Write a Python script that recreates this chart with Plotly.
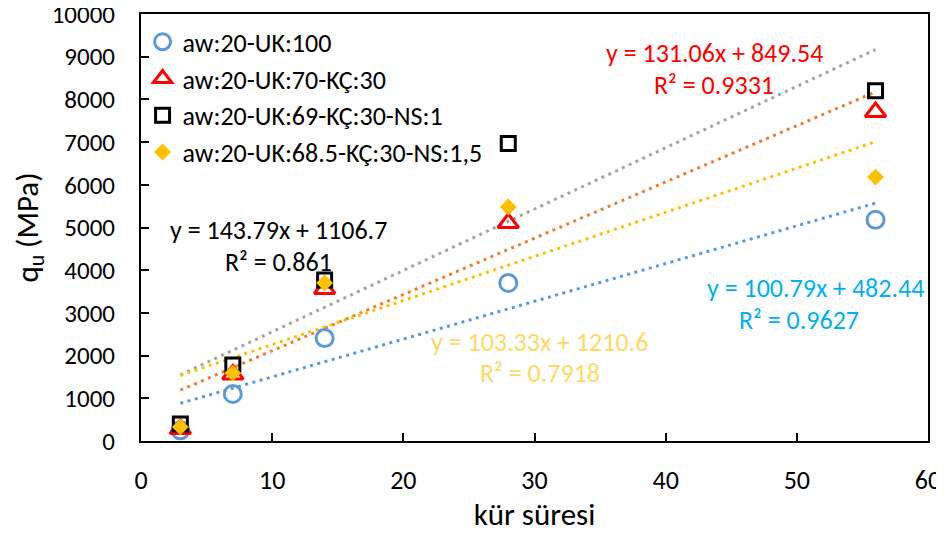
import numpy as np
import plotly.graph_objects as go

FONT = "Carlito, Lato, sans-serif"

# ---- data ----
days = [3, 7, 14, 28, 56]
series_names = [
    "aw:20-UK:100",
    "aw:20-UK:70-KÇ:30",
    "aw:20-UK:69-KÇ:30-NS:1",
    "aw:20-UK:68.5-KÇ:30-NS:1,5",
]
qu_uk100 = [250, 1100, 2410, 3700, 5180]
qu_kc30 = [280, 1560, 3560, 5105, 7705]
qu_ns1 = [400, 1780, 3770, 6970, 8200]
qu_ns15 = [330, 1590, 3700, 5480, 6180]

eq_texts = [
    ("y = 100.79x + 482.44", "R² = 0.9627"),
    ("y = 131.06x + 849.54", "R² = 0.9331"),
    ("y = 143.79x + 1106.7", "R² = 0.861"),
    ("y = 103.33x + 1210.6", "R² = 0.7918"),
]
x_ticks = [0, 10, 20, 30, 40, 50, 60]
y_ticks = [0, 1000, 2000, 3000, 4000, 5000, 6000, 7000, 8000, 9000, 10000]
y_tick_labels = [str(v) for v in y_ticks]

# ---- styles ----
all_values = [qu_uk100, qu_kc30, qu_ns1, qu_ns15]
marker_styles = [
    dict(symbol="circle-open", size=17, color="#5B9BD5", line=dict(width=3, color="#5B9BD5")),
    dict(symbol="triangle-up-open", size=18, color="#FF0000", line=dict(width=3, color="#FF0000")),
    dict(symbol="square-open", size=14, color="#000000", line=dict(width=3, color="#000000")),
    dict(symbol="diamond", size=13, color="#FFC000", line=dict(width=0)),
]
trend_colors = ["#5B9BD5", "#ED7D31", "#A5A5A5", "#FFC000"]
eq_colors = ["#00B0F0", "#FF0000", "#000000", "#FFD966"]
eq_pos = [  # (x, y_eq, y_r2, x_r2) in data units
    (51.4, 3583, 2834, 50.2),
    (43.75, 9087, 8337, 43.7),
    (10.5, 4941, 4192, 10.5),
    (30.4, 2318, 1592, 30.4),
]

fig = go.Figure()

# trendlines (least-squares fits of each series)
for vals, col in zip(all_values, trend_colors):
    a, b = np.polyfit(days, vals, 1)
    xs = [days[0], days[-1]]
    fig.add_trace(go.Scatter(
        x=xs, y=[a * xs[0] + b, a * xs[1] + b], mode="lines",
        line=dict(color=col, width=3, dash="3px,4.5px"),
        showlegend=False, hoverinfo="skip",
    ))

for i, (name, vals, ms) in enumerate(zip(series_names, all_values, marker_styles)):
    fig.add_trace(go.Scatter(
        x=days, y=vals, mode="markers", name=name, marker=ms,
        legendgroup=f"g{i}",
    ))

for (eq, r2), col, (xe, ye, yr, xr) in zip(eq_texts, eq_colors, eq_pos):
    fig.add_annotation(x=xe, y=ye, text=eq, showarrow=False, xref="x", yref="y",
                       font=dict(family=FONT, size=26, color=col))
    fig.add_annotation(x=xr, y=yr, text=r2, showarrow=False, xref="x", yref="y",
                       font=dict(family=FONT, size=26, color=col))

# the page body adds an 8px offset, so the figure is 8px smaller and margins shifted
fig.update_layout(
    width=936, height=525,
    margin=dict(l=133, r=16, t=6, b=92, autoexpand=False),
    plot_bgcolor="white", paper_bgcolor="white",
    font=dict(family=FONT, size=26, color="#000000"),
    legend=dict(x=0.002, y=0.99, xanchor="left", yanchor="top",
                bgcolor="rgba(0,0,0,0)", font=dict(family=FONT, size=26),
                tracegroupgap=0),
)
fig.update_xaxes(
    range=[0, 60], tickvals=x_ticks, showgrid=False, zeroline=False,
    showline=True, linecolor="black", linewidth=2, mirror=True,
    ticks="inside", ticklen=8, tickwidth=1.5, tickcolor="black",
    ticklabelstandoff=15, automargin=False, ticklabeloverflow="allow",
    tickfont=dict(family=FONT, size=26),
    title=dict(text="kür süresi", font=dict(family=FONT, size=31), standoff=10),
)
fig.update_yaxes(
    range=[0, 10000], tickvals=y_ticks, ticktext=y_tick_labels,
    showgrid=False, zeroline=False,
    showline=True, linecolor="black", linewidth=2, mirror=True,
    ticks="inside", ticklen=8, tickwidth=1.5, tickcolor="black",
    ticklabelstandoff=19, automargin=False, ticklabeloverflow="allow",
    tickfont=dict(family=FONT, size=25),
    title=dict(text="q<sub>u</sub> (MPa)", font=dict(family=FONT, size=31), standoff=15),
)

fig.write_html("out.html")
